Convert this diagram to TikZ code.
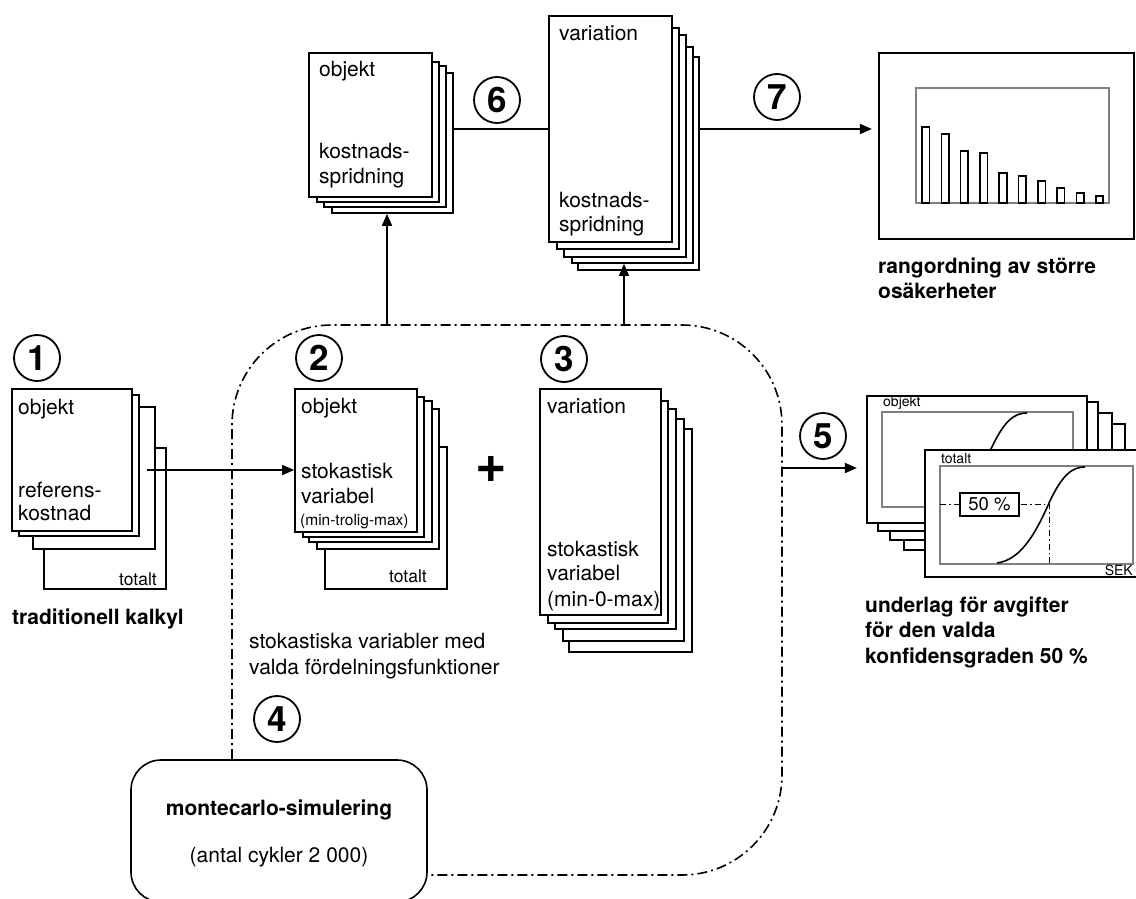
\documentclass[tikz,border=0pt]{standalone}
\usepackage{fontspec}
\setmainfont{TeX Gyre Heros}
\usetikzlibrary{arrows.meta,fit,calc}
\tikzset{
  sheet/.style={draw, line width=1.7pt, fill=white, inner sep=0pt},
  frame/.style={draw, line width=2.2pt, fill=white, inner sep=0pt},
  plot/.style={draw=black!50, line width=1.3pt},
  bar/.style={draw, line width=1.6pt},
  curve/.style={draw, line width=1.6pt},
  txt/.style={anchor=base west, inner sep=0pt, font=\fontsize{21}{24}\selectfont},
  hd/.style={txt, font=\fontsize{21}{24}\selectfont\bfseries},
  tiny/.style={txt, font=\fontsize{15.5}{18}\selectfont},
  chartlbl/.style={inner sep=1pt, font=\fontsize{14}{16}\selectfont},
  num/.style={circle, draw, line width=1.8pt, minimum size=46pt, inner sep=0pt,
    font=\fontsize{35}{35}\selectfont\bfseries},
  flow/.style={draw, line width=1.6pt, -{Triangle[length=12pt, width=10pt]}},
  loopline/.style={draw, line width=1.6pt, dash pattern=on 10pt off 4pt on 2pt off 4pt},
  guide/.style={draw, line width=1pt, dash pattern=on 6pt off 3pt on 1.5pt off 3pt},
  pbox/.style={draw, line width=1.6pt, fill=white, minimum width=59pt, minimum height=23pt,
    inner sep=0pt, font=\fontsize{18.5}{20}\selectfont},
  mcbox/.style={draw, line width=1.6pt, rounded corners=30pt, inner sep=0pt}
}

\begin{document}
\begin{tikzpicture}[x=1pt, y=-1pt]
  \useasboundingbox (0,0) rectangle (1136,899);

  % 1: traditionell kalkyl
  \foreach \n/\p/\q in {kalk4/{44,448}/{166,589}, kalk3/{33,407}/{155,549},
      kalk2/{19,395}/{139,536}, kalk1/{12,389}/{132,531}}
    \node[sheet, fit={(\p) (\q)}] (\n) {};
  \node[txt] at (18,414) {objekt};
  \node[txt] at (18,497) {referens-};
  \node[txt] at (18,520) {kostnad};
  \node[txt, anchor=base east, font=\fontsize{17.5}{20}\selectfont] at (157,585) {totalt};
  \node[hd] at (12,624) {traditionell kalkyl};
  \node[num] (n1) at (37,358) {1};

  % 2: stokastiska variabler
  \foreach \n/\p/\q in {stok5/{325,447}/{447,589}, stok4/{317,409}/{439,549},
      stok3/{309,401}/{432,542}, stok2/{303,397}/{424,537}, stok1/{295,389}/{417,532}}
    \node[sheet, fit={(\p) (\q)}] (\n) {};
  \node[txt] at (301,413) {objekt};
  \node[txt] at (301,478) {stokastisk};
  \node[txt] at (301,503) {variabel};
  \node[tiny] at (300,525) {(min-trolig-max)};
  \node[txt, anchor=base east, font=\fontsize{17.5}{20}\selectfont] at (427,582) {totalt};
  \node[num] (n2) at (319,358) {2};

  \coordinate (c1) at (147,470);
  \draw[flow] (c1) -- (c1 -| stok1.west);

  \node[font=\fontsize{54}{54}\selectfont\bfseries, inner sep=0pt] (plus) at (491,469) {+};

  % 3: variation
  \foreach \n/\p/\q in {var5/{569,429}/{692,652}, var4/{563,419}/{684,641},
      var3/{555,409}/{676,629}, var2/{548,401}/{668,623}, var1/{540,389}/{661,615}}
    \node[sheet, fit={(\p) (\q)}] (\n) {};
  \node[txt] at (547,413) {variation};
  \node[txt] at (547,556) {stokastisk};
  \node[txt] at (547,580) {variabel};
  \node[txt] at (547,606) {(min-0-max)};
  \node[num] (n3) at (564,359) {3};

  \node[txt] at (249,648) {stokastiska variabler med};
  \node[txt] at (249,674) {valda fördelningsfunktioner};

  % 4: montecarlo
  \node[mcbox, fit={(131,760) (427,902)}] (mc) {};
  \node[hd, anchor=base] at (279,815) {montecarlo-simulering};
  \node[txt, anchor=base] at (279,862) {(antal cykler 2 000)};
  \node[num] (n4) at (277,719) {4};

  \coordinate (loopW) at (232,0);
  \coordinate (loopNE) at (782,325);
  \coordinate (loopS) at (0,875);
  \draw[loopline, rounded corners=100pt] (mc.north -| loopW) |- (loopNE) |- (mc.east |- loopS);

  % 6: kostnadsspridning
  \foreach \n/\p/\q in {sprO4/{332,73}/{453,213}, sprO3/{324,66}/{446,207},
      sprO2/{317,62}/{439,202}, sprO1/{309,53}/{432,197}}
    \node[sheet, fit={(\p) (\q)}] (\n) {};
  \node[txt] at (319,77) {objekt};
  \node[txt] at (319,158) {kostnads-};
  \node[txt] at (319,183) {spridning};

  \foreach \n/\p/\q in {sprV5/{578,57}/{699,270}, sprV4/{572,47}/{693,263},
      sprV3/{564,35}/{686,257}, sprV2/{557,28}/{679,249}, sprV1/{549,16}/{672,242}}
    \node[sheet, fit={(\p) (\q)}] (\n) {};
  \node[txt] at (559,41) {variation};
  \node[txt] at (559,207) {kostnads-};
  \node[txt] at (559,231) {spridning};
  \node[num] (n6) at (497,100) {6};

  \coordinate (upA) at (387,325);
  \coordinate (upB) at (624,325);
  \draw[flow] (upA) -- (upA |- sprO4.south);
  \draw[flow] (upB) -- (upB |- sprV4.south);
  \draw[line width=1.6pt] (sprO4.east |- sprV1.west) -- (sprV1.west);

  % 7: rangordning
  \node[frame, fit={(879,53) (1134,239)}] (rank) {};
  \draw[plot] (916,88) rectangle (1109,203);
  \foreach \i/\t in {0/127, 1/134, 2/151, 3/153, 4/173, 5/176, 6/181, 7/188, 8/193, 9/196}
    \draw[bar] ({922+19.3*\i},203) rectangle ({929.5+19.3*\i},\t);
  \draw[flow, shorten >=6pt] (sprV5.east |- sprV1.west) -- (rank.west |- sprV1.west);
  \node[num] (n7) at (777,97) {7};
  \node[hd] at (878,273) {rangordning av större};
  \node[hd] at (878,298) {osäkerheter};

  % 5: underlag
  \foreach \n/\p/\q in {lay3/{904,424}/{1125,550}, lay2/{890,413}/{1112,540},
      lay1/{878,402}/{1098,531}}
    \node[frame, fit={(\p) (\q)}] (\n) {};
  \node[frame, fit={(867,396) (1087,523)}] (ulobj) {};
  \draw[plot] (882,412) rectangle (1073,507);
  \node[chartlbl, anchor=south west] at (882,411) {objekt};
  \draw[curve, shift={(-58,-54)}] (997,563) .. controls (1020,560) and (1035,535) .. (1049,503)
    .. controls (1062,475) and (1072,467) .. (1085,467);
  \node[frame, fit={(925,450) (1142,577)}] (ultot) {};
  \draw[plot] (940,466) rectangle (1133,564);
  \node[chartlbl, anchor=south west] at (940,465) {totalt};
  \node[chartlbl, anchor=south east] at (1134,577) {SEK};
  \draw[guide] (940,504) -- (1049,504) -- (1049,564);
  \draw[curve] (997,563) .. controls (1020,560) and (1035,535) .. (1049,503)
    .. controls (1062,475) and (1072,467) .. (1085,467);
  \node[pbox] (p50) at (989.5,504.5) {50 \%};

  \coordinate (out5) at (782,468);
  \draw[flow, shorten >=9pt] (out5) -- (out5 -| ulobj.west);
  \node[num] (n5) at (823,436) {5};
  \node[hd] at (865,612) {underlag för avgifter};
  \node[hd] at (865,637) {för den valda};
  \node[hd] at (865,663) {konfidensgraden 50 \%};
\end{tikzpicture}
\end{document}
